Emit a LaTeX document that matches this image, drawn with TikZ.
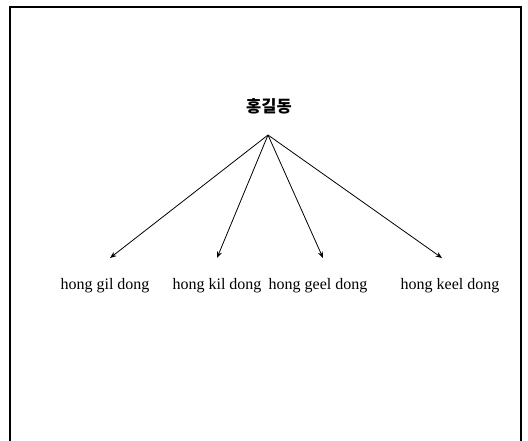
\documentclass[tikz,border=0pt]{standalone}
\usepackage{fontspec}
\setmainfont{Liberation Serif}
\newfontfamily\kr{Noto Sans CJK KR}
\usetikzlibrary{arrows.meta}
\begin{document}
\begin{tikzpicture}[x=1pt,y=-1pt,
  lbl/.style={anchor=base,inner sep=0pt,font=\fontsize{16}{19}\selectfont},
  conn/.style={line width=0.8pt,-{Stealth[length=6.5pt,width=5pt]}},
  frame/.style={line width=1.3pt}]
\useasboundingbox (0,0) rectangle (528,440);
\coordinate (bl) at (10,441);
\coordinate (tl) at (10,7);
\coordinate (tr) at (521,7);
\coordinate (br) at (521,441);
\draw[frame] (bl) -- (tl) -- (tr) -- (br);
\node[inner sep=0pt,font=\kr\bfseries\fontsize{16.5}{18}\selectfont] (root) at (269,106) {홍길동};
\coordinate (apex) at (268,135);
\node[lbl] (gil) at (105,289) {hong gil dong};
\node[lbl] (kil) at (217,289) {hong kil dong};
\node[lbl] (geel) at (318,289) {hong geel dong};
\node[lbl] (keel) at (450,289) {hong keel dong};
\coordinate (t1) at (110,258);
\coordinate (t2) at (217,258);
\coordinate (t3) at (323,258);
\coordinate (t4) at (442,258);
\draw[conn] (apex) -- (t1);
\draw[conn] (apex) -- (t2);
\draw[conn] (apex) -- (t3);
\draw[conn] (apex) -- (t4);
\end{tikzpicture}
\end{document}
